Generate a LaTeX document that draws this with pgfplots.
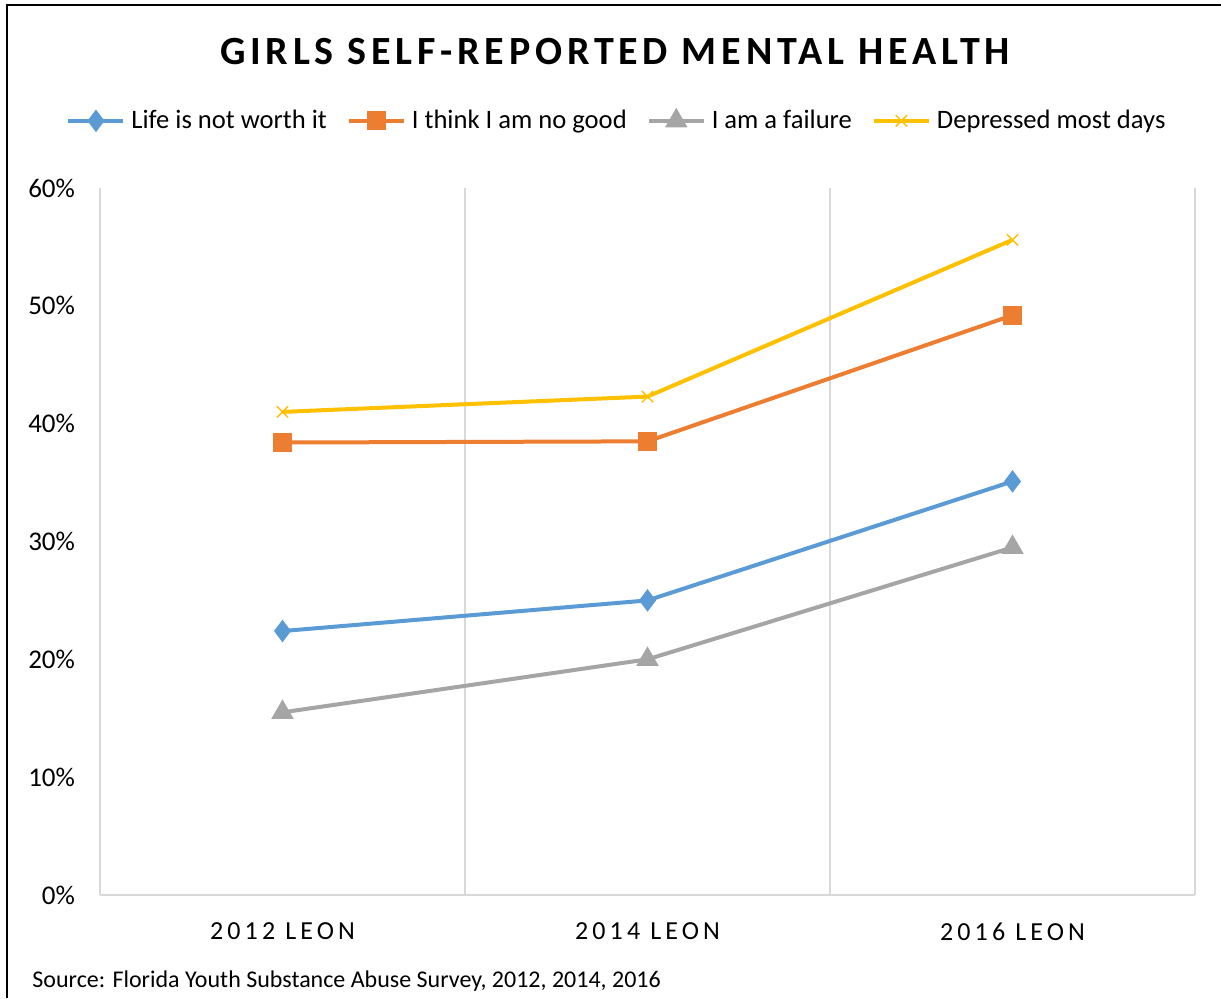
\documentclass[border=0pt]{standalone}
\usepackage{fontspec}
\setmainfont{Carlito}
\newfontfamily\spacedfont[LetterSpace=12]{Carlito}
\newfontfamily\tickfont[LetterSpace=16]{Carlito}
\usepackage{pgfplots}
\pgfplotsset{compat=1.18}
\definecolor{cblue}{HTML}{5B9BD5}
\definecolor{corange}{HTML}{ED7D31}
\definecolor{cgray}{HTML}{A5A5A5}
\definecolor{cyellow}{HTML}{FFC000}
\definecolor{gridgray}{HTML}{D9D9D9}
\begin{document}
\begin{tikzpicture}
\path[use as bounding box] (0,0) rectangle (610.5pt,499pt);
\draw[line width=1pt] (3.5pt,0) -- (3.5pt,496.5pt) -- (610.5pt,496.5pt);
\node[font=\fontsize{20}{24}\selectfont\bfseries\spacedfont] at (307.5pt,473pt) {GIRLS SELF-REPORTED MENTAL HEALTH};
\begin{axis}[
    at={(50pt,51.5pt)}, anchor=south west,
    width=547.5pt, height=353.5pt, scale only axis,
    xmin=-0.5, xmax=2.5, ymin=0, ymax=0.6,
    axis line style={gridgray, line width=0.75pt},
    axis x line*=bottom, axis y line=none,
    extra x ticks={-0.5,0.5,1.5,2.5}, extra x tick labels={},
    extra x tick style={xmajorgrids=true, major tick length=0pt,
        grid style={gridgray, line width=0.75pt}},
    xtick={0,1,2},
    xticklabels={2012 LEON,2014 LEON,2016 LEON},
    x tick label style={font=\fontsize{13}{15}\selectfont\tickfont, yshift=-10.5pt},
    major tick length=0pt,
    ytick={0,0.1,0.2,0.3,0.4,0.5,0.6},
    yticklabels={},
    clip=false,
    legend columns=4,
    legend style={at={(0.473,1.095)}, anchor=center, draw=none,
        font=\fontsize{13.3}{15}\selectfont,
        /tikz/every odd column/.append style={column sep=1pt},
        /tikz/every even column/.append style={column sep=8pt}},
    legend image code/.code={
        \draw[#1] (0pt,0pt) -- (27.5pt,0pt);
        \draw[#1, only marks] plot coordinates {(13.75pt,0pt)};},
    ]
\addplot[cblue, line width=2pt, mark=diamond*, mark size=4pt]
    coordinates {(0,0.224)(1,0.250)(2,0.351)};
\addplot[corange, line width=2pt, mark=square*, mark size=3.8pt]
    coordinates {(0,0.384)(1,0.385)(2,0.492)};
\addplot[cgray, line width=2pt, mark=triangle*, mark size=4.5pt]
    coordinates {(0,0.155)(1,0.200)(2,0.295)};
\addplot[cyellow, line width=2pt, mark=x, mark size=4pt, mark options={line width=0.75pt}]
    coordinates {(0,0.410)(1,0.423)(2,0.556)};
\legend{Life is not worth it, I think I am no good, I am a failure, Depressed most days}
\end{axis}
\foreach \v/\l in {0/0\%,1/10\%,2/20\%,3/30\%,4/40\%,5/50\%,6/60\%}
    \node[anchor=east, font=\fontsize{13.5}{15}\selectfont] at (41pt,{51.5pt+\v*58.9167pt}) {\l};
\node[anchor=west, font=\fontsize{12}{14}\selectfont] at (12.7pt,8.5pt) {Source: Florida Youth Substance Abuse Survey, 2012, 2014, 2016};
\end{tikzpicture}
\end{document}
